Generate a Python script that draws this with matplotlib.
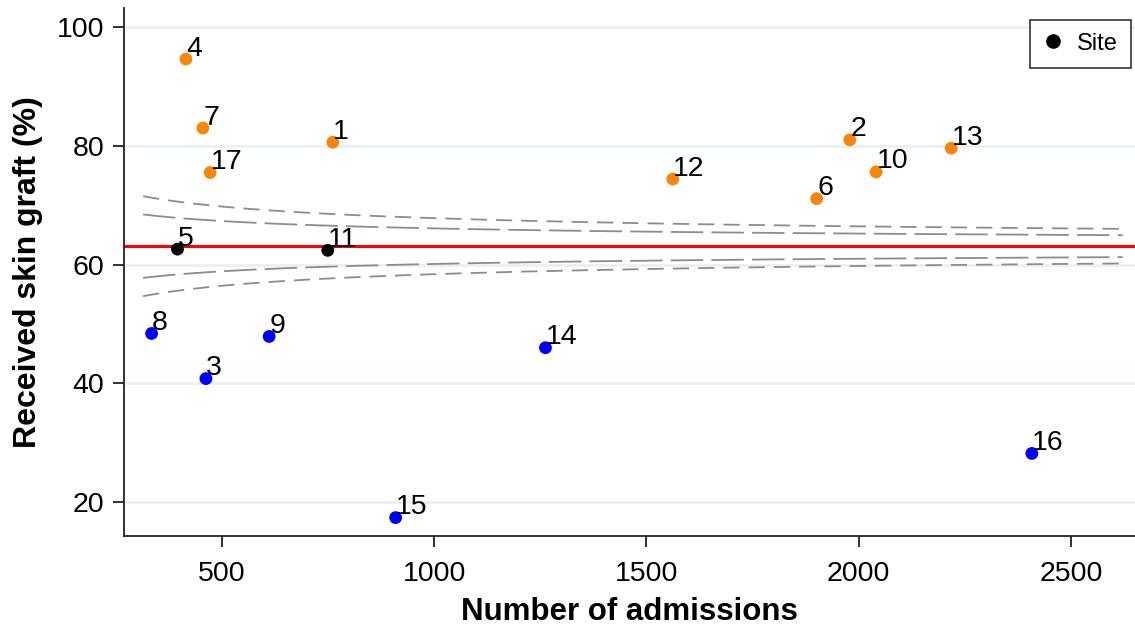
import numpy as np
import matplotlib
matplotlib.use("Agg")
import matplotlib.pyplot as plt
from matplotlib.lines import Line2D

plt.rcParams['font.family'] = ['Liberation Sans', 'DejaVu Sans']

# ---- data ----
site_ids = [1, 2, 3, 4, 5, 6, 7, 8, 9, 10, 11, 12, 13, 14, 15, 16, 17]
admissions = [761, 1979, 462, 415, 395, 1901, 455, 334, 611, 2041, 749, 1562, 2218, 1262, 909, 2408, 472]
skin_graft = [80.6, 81.0, 40.8, 94.6, 62.6, 71.1, 83.0, 48.4, 47.9, 75.6, 62.4, 74.4, 79.6, 46.0, 17.4, 28.2, 75.5]
# group: 'high' above limits, 'low' below limits, 'within'
group = ['high', 'high', 'low', 'high', 'within', 'high', 'high', 'low', 'low', 'high',
         'within', 'high', 'high', 'low', 'low', 'low', 'high']
target_pct = 63.1
funnel_n_min, funnel_n_max = 314, 2622
z_inner, z_outer = 1.96, 3.09

x_ticks = [500, 1000, 1500, 2000, 2500]
y_ticks = [20, 40, 60, 80, 100]

colors = {'high': '#F7860F', 'low': '#0000FF', 'within': '#000000'}

fig = plt.figure(figsize=(11.35, 6.28), dpi=100)
ax = fig.add_axes([124 / 1135, (628 - 536) / 628, (1135 - 124) / 1135, (536 - 8) / 628])

ax.set_xlim(269, 2651)
ax.set_ylim(14.3, 103.2)

# grid
for yt in y_ticks:
    ax.axhline(yt, color='#EAF1F3', lw=2, zorder=0)

# funnel limits (binomial control limits around target)
n = np.linspace(funnel_n_min, funnel_n_max, 400)
p = target_pct / 100
se = np.sqrt(p * (1 - p) / n) * 100
ax.plot(n, target_pct + z_outer * se, color='#8C8C8C', lw=1.3, ls=(0, (9, 5)), zorder=1)
ax.plot(n, target_pct - z_outer * se, color='#8C8C8C', lw=1.3, ls=(0, (9, 5)), zorder=1)
ax.plot(n, target_pct + z_inner * se, color='#8C8C8C', lw=1.3, ls=(0, (18, 4.5)), zorder=1)
ax.plot(n, target_pct - z_inner * se, color='#8C8C8C', lw=1.3, ls=(0, (18, 4.5)), zorder=1)

ax.axhline(target_pct, color='#FF0000', lw=2.2, zorder=2)

cols = [colors[g] for g in group]
ax.scatter(admissions, skin_graft, s=85, c=cols, zorder=3, linewidths=0)
for sid, xv, yv in zip(site_ids, admissions, skin_graft):
    ax.annotate(str(sid), (xv, yv), xytext=(0.3, 2.5), textcoords='offset points',
                ha='left', va='baseline', fontsize=20.5, color='black', zorder=4)

for s in ['top', 'right']:
    ax.spines[s].set_visible(False)
for s in ['left', 'bottom']:
    ax.spines[s].set_linewidth(1.3)
    ax.spines[s].set_color('#222222')

ax.set_xticks(x_ticks)
ax.set_yticks(y_ticks)
ax.tick_params(axis='both', labelsize=20.5, width=1.3, color='#222222')
ax.tick_params(axis='x', length=8, pad=10)
ax.tick_params(axis='y', length=8, pad=6)

ax.set_xlabel('Number of admissions', fontsize=22.5, fontweight='bold', labelpad=7)
ax.set_ylabel('Received skin graft (%)', fontsize=23, fontweight='bold', labelpad=10)

handle = Line2D([], [], marker='o', color='black', ls='none', markersize=9.5)
leg = ax.legend([handle], ['Site'], loc='upper right', fontsize=17, frameon=True,
                fancybox=False, edgecolor='black', handletextpad=0.55, handlelength=0.9,
                borderpad=0.55, borderaxespad=0, bbox_to_anchor=(0.996, 0.978))
leg.get_frame().set_linewidth(1.2)

fig.savefig('out.png', dpi=100)
